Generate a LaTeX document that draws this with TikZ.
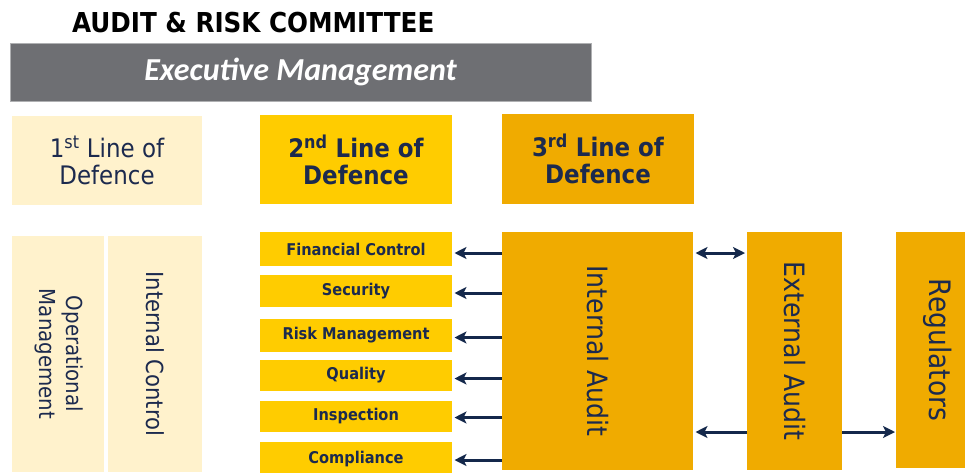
\documentclass[tikz,border=0pt]{standalone}
\usepackage{fontspec}
\setmainfont{DejaVu Sans Condensed}
\newfontfamily\execfont{Carlito}
\usetikzlibrary{arrows.meta}

\definecolor{navy}{HTML}{1C2A4E}
\definecolor{cream}{HTML}{FFF2CC}
\definecolor{gold}{HTML}{FFCC00}
\definecolor{amber}{HTML}{F0AB00}
\definecolor{slate}{HTML}{6E6F73}
\definecolor{arrowblue}{HTML}{14284B}

\begin{document}
\begin{tikzpicture}[x=1pt,y=-1pt,
  panel/.style={anchor=north west, inner sep=0pt, outer sep=0pt, align=center, text=navy},
  tier/.style={panel, font=\fontsize{25.5}{27}\selectfont},
  unitbox/.style={panel, fill=gold, minimum width=192pt, font=\bfseries\fontsize{16.2}{18}\selectfont},
  linkarrow/.style={draw=arrowblue, line width=3pt, -{Stealth[length=12pt,width=12pt,inset=3pt]}},
  twoway/.style={draw=arrowblue, line width=3pt, {Stealth[length=12pt,width=12pt,inset=3pt]}-{Stealth[length=12pt,width=12pt,inset=3pt]}}
]
\useasboundingbox (0,0) rectangle (965,472);
\clip (0,0) rectangle (965,472);

% heading and executive bar
\node[anchor=base west, inner sep=0pt, font=\bfseries\fontsize{27.4}{30}\selectfont] (title) at (72,32) {AUDIT \& RISK COMMITTEE};
\node[panel, fill=slate, draw=slate!55!white, line width=0.8pt, minimum width=581pt, minimum height=58pt,
      text=white, font=\execfont\bfseries\itshape\fontsize{32}{34}\selectfont] (exec) at (10,43) {Executive Management};

% lines of defence
\node[tier, fill=cream, minimum width=190pt, minimum height=89pt] (first) at (12,116) {1\textsuperscript{st} Line of\\Defence};
\node[tier, fill=gold, minimum width=192pt, minimum height=89pt, font=\bfseries\fontsize{25.5}{27}\selectfont] (second) at (260,115) {2\textsuperscript{nd} Line of\\Defence};
\node[tier, fill=amber, minimum width=192pt, minimum height=90pt, font=\bfseries\fontsize{25.5}{27}\selectfont] (third) at (502,114) {3\textsuperscript{rd} Line of\\Defence};

% first line columns
\node[panel, fill=cream, minimum width=92pt, minimum height=236pt, font=\fontsize{22}{27}\selectfont] (ops) at (12,236)
  {\rotatebox{-90}{\begin{tabular}{@{}c@{}}Operational\\Management\end{tabular}}};
\node[panel, fill=cream, minimum width=94pt, minimum height=236pt, font=\fontsize{23.5}{27}\selectfont] (ctrl) at (108,236)
  {\rotatebox{-90}{Internal Control}};

% second line functions
\node[unitbox, minimum height=34pt] (fin)  at (260,232) {Financial Control};
\node[unitbox, minimum height=32pt] (sec)  at (260,275) {Security};
\node[unitbox, minimum height=33pt] (risk) at (260,319) {Risk Management};
\node[unitbox, minimum height=31pt] (qual) at (260,360) {Quality};
\node[unitbox, minimum height=31pt] (insp) at (260,401) {Inspection};
\node[unitbox, minimum height=34pt] (comp) at (260,442) {Compliance};

% assurance providers
\node[panel, fill=amber, minimum width=191pt, minimum height=238pt, font=\fontsize{28}{30}\selectfont] (ia) at (502,232)
  {\rotatebox{-90}{Internal Audit}};
\node[panel, fill=amber, minimum width=95pt, minimum height=238pt, font=\fontsize{28}{30}\selectfont] (ea) at (747,232)
  {\rotatebox{-90}{External Audit}};
\node[panel, fill=amber, minimum width=84pt, minimum height=236pt, font=\fontsize{29.5}{30}\selectfont] (reg) at (896,232)
  {\rotatebox{-90}{Regulators}};

% internal audit reaches every second-line function
\foreach \u/\d in {fin/-4, sec/-2, risk/-2, qual/-3, insp/-1, comp/-1}
  \draw[linkarrow, shorten >=2.5pt] ([yshift=\d pt]\u.east -| ia.west) -- ([yshift=\d pt]\u.east);

% audit relationships
\draw[twoway, shorten <=2.5pt, shorten >=2pt] ([yshift=-21pt]ia.north east) -- ([yshift=-21pt]ea.north west);
\draw[linkarrow, shorten >=2.5pt] ([yshift=38pt]ea.south west) -- ([yshift=38pt]ia.south east);
\draw[linkarrow, shorten >=1pt] ([yshift=38pt]ea.south east) -- ([yshift=36pt]reg.south west);
\end{tikzpicture}
\end{document}
